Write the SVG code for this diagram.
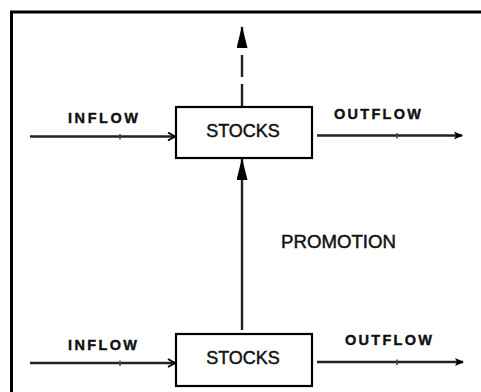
<svg xmlns="http://www.w3.org/2000/svg" width="481" height="392" viewBox="0 0 481 392">
<defs>
<marker id="chev" viewBox="0 0 10 10" refX="9" refY="5" markerWidth="10" markerHeight="10" markerUnits="userSpaceOnUse" orient="auto">
<path d="M2,1 L9,5 L2,9" fill="none" stroke="#000" stroke-width="1.8"/>
</marker>
<marker id="head" viewBox="0 0 10 10" refX="9" refY="5" markerWidth="10" markerHeight="10" markerUnits="userSpaceOnUse" orient="auto">
<path d="M1,1 L10,5 L1,9 L3,5 Z" fill="#000"/>
</marker>
<marker id="big" viewBox="0 0 22 11" refX="21" refY="5.5" markerWidth="22" markerHeight="11" markerUnits="userSpaceOnUse" orient="auto">
<path d="M0,0 L22,5.5 L0,11 Z" fill="#000"/>
</marker>
</defs>
<style>
.box{fill:#fff;stroke:#000;stroke-width:2.2}
.lbl{font-family:"Liberation Sans",Arial,sans-serif;font-size:18px;fill:#111;stroke:#111;stroke-width:0.45}
.flw{font-family:"Liberation Sans",Arial,sans-serif;font-size:14.5px;font-weight:bold;fill:#111;stroke:#111;stroke-width:0.4}
.ln{stroke:#222;stroke-width:2.4;fill:none}
.tk{stroke:#444;stroke-width:1.5}
</style>
<rect x="0" y="0" width="481" height="392" fill="#fff"/>
<path d="M11.5,392 V12 H481" fill="none" stroke="#000" stroke-width="3"/>
<g id="connectors">
<line class="ln" x1="30" y1="136.5" x2="175" y2="136.5" marker-end="url(#chev)"/>
<line class="tk" x1="120" y1="134" x2="120" y2="139.5"/>
<line class="ln" x1="317" y1="135.5" x2="462" y2="135.5" marker-end="url(#head)"/>
<line class="tk" x1="397" y1="133" x2="397" y2="138.5"/>
<line class="ln" x1="30" y1="363" x2="175" y2="363" marker-end="url(#chev)"/>
<line class="tk" x1="120" y1="360.5" x2="120" y2="366"/>
<line class="ln" x1="317" y1="362" x2="463" y2="362" marker-end="url(#head)"/>
<line class="tk" x1="397" y1="359.5" x2="397" y2="365"/>
<line class="ln" x1="242" y1="106" x2="242" y2="27" stroke-dasharray="22 7" marker-end="url(#big)"/>
<line class="ln" x1="242" y1="330" x2="242" y2="159" marker-end="url(#big)"/>
</g>
<g id="stocks-top">
<rect class="box" x="176" y="107" width="136" height="51"/>
<text class="lbl" x="243" y="137" text-anchor="middle">STOCKS</text>
</g>
<g id="stocks-bottom">
<rect class="box" x="176" y="334" width="136" height="52"/>
<text class="lbl" x="243" y="364" text-anchor="middle">STOCKS</text>
</g>
<g id="labels">
<text class="flw" x="68" y="123" textLength="70" lengthAdjust="spacing">INFLOW</text>
<text class="flw" x="334" y="119" textLength="87" lengthAdjust="spacing">OUTFLOW</text>
<text class="flw" x="68" y="350" textLength="69" lengthAdjust="spacing">INFLOW</text>
<text class="flw" x="345" y="345" textLength="87" lengthAdjust="spacing">OUTFLOW</text>
<text class="lbl" x="281" y="248" textLength="115" lengthAdjust="spacingAndGlyphs">PROMOTION</text>
</g>
</svg>
